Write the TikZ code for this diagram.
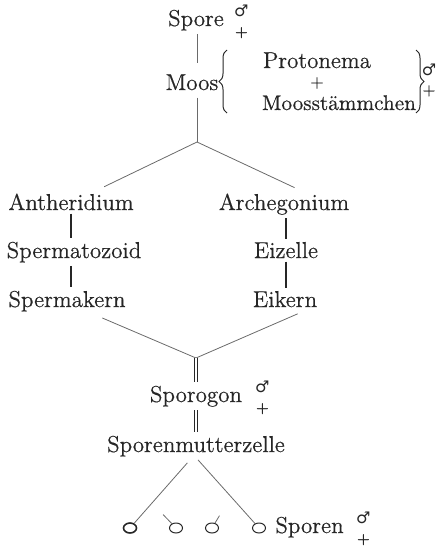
\documentclass[tikz,border=0pt]{standalone}
\usepackage{fontspec}
\setmainfont{Latin Modern Roman}[FakeBold=0.5]
\newfontfamily\symfont{DejaVu Sans}
\usepackage{xcolor}
\usepackage{tikz}
\usetikzlibrary{shapes.geometric,decorations.pathreplacing}
\definecolor{inkblack}{HTML}{262626}
\definecolor{inkgray}{HTML}{6A6A6A}
\newcommand{\zwitter}{\makebox[7pt]{%
  \makebox[0pt]{\raisebox{4.6pt}{\symfont\fontsize{8}{8}\selectfont ♂}}%
  \makebox[0pt]{\raisebox{-5.2pt}{\fontsize{7.5}{7.5}\selectfont +}}}}
\tikzset{
  term/.style={inner sep=1.5pt,text=inkblack,font=\fontsize{11.5}{13}\selectfont},
  sexmark/.style={inner sep=0pt,text=inkblack},
  link/.style={draw=inkblack,line width=0.7pt},
  thin link/.style={draw=inkgray,line width=0.4pt},
  double link/.style={draw=inkblack,line width=0.4pt,double distance=1.1pt},
  curly/.style={draw=inkblack,line width=0.5pt,decorate,decoration={brace,amplitude=4pt}},
  spore cell/.style={ellipse,draw=inkblack,line width=0.5pt,minimum width=6.5pt,
    minimum height=5pt,inner sep=0pt}
}

\begin{document}
\begin{tikzpicture}[x=0.5pt,y=-0.5pt]
  \useasboundingbox (0,0) rectangle (436,546);
  % Moospflanze
  \node[term,anchor=base] (spore) at (196,26) {Spore};
  \node[sexmark,anchor=base west] (sporesex) at (234,26) {\zwitter};
  \node[term,anchor=base] (moos) at (192,90) {Moos};
  \draw[curly] (227,113) -- (227,50);
  \node[term,anchor=base] (proto) at (317,68) {Protonema};
  \node[term,font=\fontsize{8}{8}\selectfont] (plus) at (317,83) {+};
  \node[term,anchor=base,font=\fontsize{10.6}{12}\selectfont] (stamm) at (339,110) {Moosstämmchen};
  \draw[curly] (416,50) -- (416,113);
  \node[sexmark] (moossex) at (429,80) {\zwitter};
  \coordinate (fork1) at (197,142);
  \draw[thin link,shorten >=4pt] (spore.south -| fork1) -- (fork1 |- moos.north);
  \draw[thin link,shorten <=2pt] (fork1 |- moos.south) -- (fork1);
  % Geschlechtsorgane
  \node[term,anchor=base] (anth) at (71,210) {Antheridium};
  \node[term,anchor=base] (spz) at (74,258) {Spermatozoid};
  \node[term,anchor=base] (spk) at (67,307) {Spermakern};
  \node[term,anchor=base] (arch) at (284,210) {Archegonium};
  \node[term,anchor=base] (eiz) at (286,258) {Eizelle};
  \node[term,anchor=base] (eik) at (285,307) {Eikern};
  \draw[thin link,shorten >=4pt] (fork1) -- ([xshift=13pt]anth.north);
  \draw[thin link,shorten >=3pt] (fork1) -- ([xshift=8pt]arch.north);
  \draw[link] (anth) -- (anth |- spz.north);
  \draw[link] (spz.south -| anth) -- (anth |- spk.north);
  \draw[link] (arch.south -| eiz) -- (eiz);
  \draw[link] (eiz) -- (eiz |- eik.north);
  % Befruchtung
  \coordinate (fork2) at (196,358);
  \draw[thin link,shorten <=4pt] ([xshift=14pt]spk.south) -- (fork2);
  \draw[thin link,shorten <=4pt] ([xshift=10pt]eik.south) -- (fork2);
  \node[term,anchor=base] (sporogon) at (196,402) {Sporogon};
  \node[sexmark,anchor=base west] (sporogonsex) at (255,402) {\zwitter};
  \node[term,anchor=base] (smz) at (196,452) {Sporenmutterzelle};
  \draw[double link] (fork2) -- (fork2 |- sporogon.north);
  \draw[double link] (sporogon.south -| fork2) -- (fork2 |- smz.north);
  % Sporen
  \node[spore cell,line width=0.8pt] (c1) at (130,528) {};
  \node[spore cell] (c2) at (176,528) {};
  \node[spore cell] (c3) at (212,528) {};
  \node[spore cell] (c4) at (259,528) {};
  \node[term,anchor=base west] (sporen) at (272,533) {Sporen};
  \node[sexmark,anchor=base west] (sporensex) at (356,533) {\zwitter};
  \coordinate (lsplit) at (152,503);
  \coordinate (rsplit) at (235,490);
  \draw[thin link,shorten <=2pt] ([xshift=-3pt]smz.south) -- (c1);
  \draw[thin link] ([xshift=1pt]smz.south) -- (c4);
  \draw[thin link,shorten <=8pt] (lsplit) -- (c2);
  \draw[thin link,shorten <=15pt] (rsplit) -- (c3);
\end{tikzpicture}
\end{document}
